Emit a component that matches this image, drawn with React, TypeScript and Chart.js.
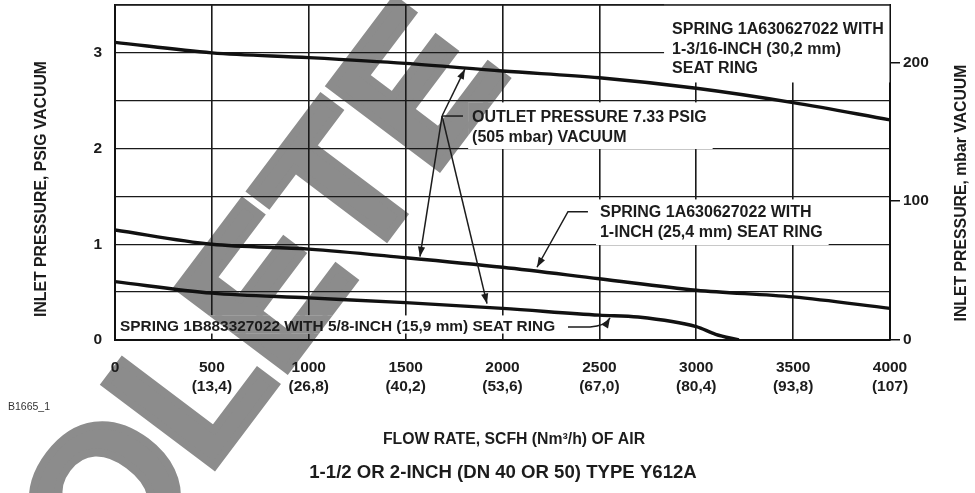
import React, { useEffect, useRef } from 'react';
import { Chart, registerables } from 'chart.js';

Chart.register(...registerables);

// ---------- data ----------
const FLOW_TICKS = [0, 500, 1000, 1500, 2000, 2500, 3000, 3500, 4000];
const FLOW_TICK_LABELS = ['0', '500', '1000', '1500', '2000', '2500', '3000', '3500', '4000'];
const NM3_TICK_LABELS = ['', '(13,4)', '(26,8)', '(40,2)', '(53,6)', '(67,0)', '(80,4)', '(93,8)', '(107)'];
const PSIG_TICKS = [0, 1, 2, 3];
const MBAR_TICKS = [0, 100, 200];
const PSIG_MAX = 3.5;
const MBAR_PER_PSI = 68.9476;

const FLOW_30_2MM = [0, 500, 1000, 1500, 2000, 2500, 3000, 3500, 4000];
const PSIG_30_2MM = [3.11, 3.0, 2.95, 2.89, 2.81, 2.74, 2.63, 2.48, 2.3];
const FLOW_25_4MM = [0, 500, 1000, 1500, 2000, 2500, 3000, 3500, 4000];
const PSIG_25_4MM = [1.15, 1.0, 0.95, 0.86, 0.76, 0.64, 0.52, 0.45, 0.33];
const FLOW_15_9MM = [0, 500, 1000, 1500, 2000, 2500, 2700, 3000, 3100, 3220];
const PSIG_15_9MM = [0.61, 0.49, 0.44, 0.39, 0.33, 0.26, 0.24, 0.14, 0.06, 0];

// ---------- text ----------
const LABEL_30_2MM = ['SPRING 1A630627022 WITH', '1-3/16-INCH (30,2 mm)', 'SEAT RING'];
const LABEL_OUTLET = ['OUTLET PRESSURE 7.33 PSIG', '(505 mbar) VACUUM'];
const LABEL_25_4MM = ['SPRING 1A630627022 WITH', '1-INCH (25,4 mm) SEAT RING'];
const LABEL_15_9MM = ['SPRING 1B883327022 WITH 5/8-INCH (15,9 mm) SEAT RING'];
const Y_TITLE_LEFT = 'INLET PRESSURE, PSIG VACUUM';
const Y_TITLE_RIGHT = 'INLET PRESSURE, mbar VACUUM';
const X_TITLE = 'FLOW RATE, SCFH (Nm\u00B3/h) OF AIR';
const SUBTITLE = '1-1/2 OR 2-INCH (DN 40 OR 50) TYPE Y612A';
const FIGURE_ID = 'B1665_1';
const WATERMARK = 'OBSOLETE';

// annotation anchors in data units [flow, psig]
const ANCHOR_30_2MM = [2875, 3.24];
const ANCHOR_OUTLET = [1843, 2.32];
const ANCHOR_25_4MM = [2503, 1.327];
const ANCHOR_15_9MM = [26, 0.136];
const OUTLET_BRANCH = [1688, 2.34];
const OUTLET_JOIN = [1796, 2.34];
const OUTLET_TIPS = [[1806, 2.83], [1574, 0.87], [1920, 0.38]];
const LEADER_25_4MM = [[2441, 1.34], [2338, 1.34], [2178, 0.76]];
const LEADER_15_9MM = [[2338, 0.136], [2452, 0.136], [2530, 0.145], [2555, 0.23]];

const FONT = '"Liberation Sans", Arial, Helvetica, sans-serif';
const INK = '#1c1c1c';

function drawWatermark(ctx: CanvasRenderingContext2D) {
  const size = 198;
  const th = (-53 * Math.PI) / 180;
  const ux = Math.cos(th);
  const uy = Math.sin(th);
  ctx.save();
  ctx.font = `bold ${size}px ${FONT}`;
  const pre = ctx.measureText('OBSO').width + 0.073 * size;
  const cx = 215, cy = 465;
  ctx.translate(cx - pre * ux, cy - pre * uy);
  ctx.rotate(th);
  ctx.fillStyle = '#8c8c8c';
  ctx.strokeStyle = '#8c8c8c';
  ctx.lineWidth = 8;
  ctx.lineJoin = 'miter';
  ctx.textAlign = 'left';
  ctx.textBaseline = 'alphabetic';
  ctx.fillText(WATERMARK, 0, 0);
  ctx.strokeText(WATERMARK, 0, 0);
  ctx.restore();
}

function arrowHead(ctx: CanvasRenderingContext2D, fx: number, fy: number, tx: number, ty: number) {
  const a = Math.atan2(ty - fy, tx - fx);
  const len = 10, hw = 3.6;
  ctx.beginPath();
  ctx.moveTo(tx, ty);
  ctx.lineTo(tx - len * Math.cos(a) + hw * Math.sin(a), ty - len * Math.sin(a) - hw * Math.cos(a));
  ctx.lineTo(tx - len * Math.cos(a) - hw * Math.sin(a), ty - len * Math.sin(a) + hw * Math.cos(a));
  ctx.closePath();
  ctx.fill();
}

type Lbl = { lines: string[]; anchor: number[]; pad: number[]; size: number };
const LABELS: Lbl[] = [
  { lines: LABEL_30_2MM, anchor: ANCHOR_30_2MM, pad: [8, 16, 6, 4], size: 16 },
  { lines: LABEL_OUTLET, anchor: ANCHOR_OUTLET, pad: [4, 6, 6, 2], size: 16 },
  { lines: LABEL_25_4MM, anchor: ANCHOR_25_4MM, pad: [4, 4, 6, 3], size: 16 },
  { lines: LABEL_15_9MM, anchor: ANCHOR_15_9MM, pad: [3, 2, 4, -3], size: 15.4 },
];
const LINE_H = 19.5;

const annotPlugin = {
  id: 'annot',
  beforeDraw(chart: any) {
    const ctx = chart.ctx as CanvasRenderingContext2D;
    ctx.save();
    ctx.fillStyle = '#ffffff';
    ctx.fillRect(0, 0, chart.width, chart.height);
    ctx.restore();
    drawWatermark(ctx);
  },
  beforeDatasetsDraw(chart: any) {
    const ctx = chart.ctx as CanvasRenderingContext2D;
    const xs = chart.scales.x, ys = chart.scales.y;
    ctx.save();
    for (const l of LABELS) {
      ctx.font = `bold ${l.size}px ${FONT}`;
      const x = xs.getPixelForValue(l.anchor[0]);
      const y = ys.getPixelForValue(l.anchor[1]);
      const w = Math.max(...l.lines.map((s) => ctx.measureText(s).width));
      const bx = x - l.pad[0];
      const by = y - LINE_H / 2 - l.pad[1];
      const bw = w + l.pad[0] + l.pad[2];
      const bh = l.lines.length * LINE_H + l.pad[1] + l.pad[3];
      ctx.save();
      ctx.beginPath();
      ctx.rect(bx, by, bw, bh);
      ctx.clip();
      ctx.fillStyle = '#ffffff';
      ctx.fillRect(bx, by, bw, bh);
      drawWatermark(ctx);
      ctx.restore();
    }
    ctx.fillStyle = INK;
    ctx.textAlign = 'left';
    ctx.textBaseline = 'middle';
    for (const l of LABELS) {
      ctx.font = `bold ${l.size}px ${FONT}`;
      const x = xs.getPixelForValue(l.anchor[0]);
      const y = ys.getPixelForValue(l.anchor[1]);
      l.lines.forEach((s, i) => ctx.fillText(s, x, y + i * LINE_H));
    }
    ctx.restore();
  },
  afterDatasetsDraw(chart: any) {
    const ctx = chart.ctx as CanvasRenderingContext2D;
    const xs = chart.scales.x, ys = chart.scales.y;
    const P = (p: number[]) => [xs.getPixelForValue(p[0]), ys.getPixelForValue(p[1])];
    ctx.save();
    ctx.strokeStyle = INK;
    ctx.fillStyle = INK;
    ctx.lineWidth = 1.5;
    const b = P(OUTLET_BRANCH), j = P(OUTLET_JOIN);
    ctx.beginPath();
    ctx.moveTo(j[0], j[1]);
    ctx.lineTo(b[0], b[1]);
    ctx.stroke();
    for (const t of OUTLET_TIPS) {
      const tp = P(t);
      ctx.beginPath();
      ctx.moveTo(b[0], b[1]);
      ctx.lineTo(tp[0], tp[1]);
      ctx.stroke();
      arrowHead(ctx, b[0], b[1], tp[0], tp[1]);
    }
    const m = LEADER_25_4MM.map(P);
    ctx.beginPath();
    ctx.moveTo(m[0][0], m[0][1]);
    ctx.lineTo(m[1][0], m[1][1]);
    ctx.lineTo(m[2][0], m[2][1]);
    ctx.stroke();
    arrowHead(ctx, m[1][0], m[1][1], m[2][0], m[2][1]);
    const s = LEADER_15_9MM.map(P);
    ctx.beginPath();
    ctx.moveTo(s[0][0], s[0][1]);
    ctx.lineTo(s[1][0], s[1][1]);
    ctx.quadraticCurveTo(s[2][0], s[2][1], s[3][0], s[3][1]);
    ctx.stroke();
    arrowHead(ctx, s[2][0], s[2][1], s[3][0], s[3][1]);
    ctx.restore();
  },
  afterDraw(chart: any) {
    const ctx = chart.ctx as CanvasRenderingContext2D;
    const a = chart.chartArea;
    ctx.save();
    ctx.fillStyle = INK;
    ctx.textAlign = 'center';
    ctx.textBaseline = 'middle';
    ctx.font = `bold 15.8px ${FONT}`;
    ctx.save();
    ctx.translate(a.left - 73, 189);
    ctx.rotate(-Math.PI / 2);
    ctx.fillText(Y_TITLE_LEFT, 0, 0);
    ctx.restore();
    ctx.save();
    ctx.translate(a.right + 72, 193);
    ctx.rotate(-Math.PI / 2);
    ctx.fillText(Y_TITLE_RIGHT, 0, 0);
    ctx.restore();
    ctx.fillText(X_TITLE, 514, a.bottom + 100);
    ctx.font = `bold 18.6px ${FONT}`;
    ctx.fillText(SUBTITLE, 503, a.bottom + 133);
    ctx.font = `10.5px ${FONT}`;
    ctx.textAlign = 'left';
    ctx.fillStyle = '#333';
    ctx.fillText(FIGURE_ID, 8, a.bottom + 67);
    ctx.strokeStyle = INK;
    ctx.lineWidth = 1.6;
    ctx.beginPath();
    ctx.moveTo(a.left, a.top);
    ctx.lineTo(a.right, a.top);
    ctx.stroke();
    ctx.restore();
  },
};

const zeroPad = (s: any) => {
  s.paddingTop = 0;
  s.paddingBottom = 0;
  s.paddingLeft = 0;
  s.paddingRight = 0;
};

export default function App() {
  const ref = useRef<HTMLCanvasElement>(null);
  useEffect(() => {
    const line = (fx: number[], py: number[]) => fx.map((x, i) => ({ x, y: py[i] }));
    const ds = (label: string, data: any[]) => ({
      label,
      data,
      borderColor: '#111',
      borderWidth: 3.4,
      pointRadius: 0,
      fill: false,
      cubicInterpolationMode: 'monotone' as const,
      yAxisID: 'y',
    });
    const chart = new Chart(ref.current!, {
      type: 'line',
      data: {
        datasets: [
          ds('30,2 mm', line(FLOW_30_2MM, PSIG_30_2MM)),
          ds('25,4 mm', line(FLOW_25_4MM, PSIG_25_4MM)),
          ds('15,9 mm', line(FLOW_15_9MM, PSIG_15_9MM)),
        ],
      },
      options: {
        animation: false,
        responsive: false,
        layout: { padding: { top: 5, left: 0, right: 0, bottom: 0 } },
        plugins: { legend: { display: false }, tooltip: { enabled: false } },
        scales: {
          x: {
            type: 'linear',
            min: 0,
            max: 4000,
            afterBuildTicks: (s: any) => {
              s.ticks = FLOW_TICKS.map((v) => ({ value: v }));
            },
            afterFit: (s: any) => {
              s.height = 153;
              zeroPad(s);
            },
            grid: { color: '#1a1a1a', lineWidth: 1.6, drawTicks: false },
            border: { color: '#111', width: 2 },
            ticks: {
              maxRotation: 0,
              autoSkip: false,
              padding: 18,
              color: INK,
              font: { family: FONT, size: 15.5, weight: 'bold', lineHeight: 1.25 },
              callback: (v: any) => {
                const i = FLOW_TICKS.indexOf(Number(v));
                if (i < 0) return '';
                return NM3_TICK_LABELS[i] ? [FLOW_TICK_LABELS[i], NM3_TICK_LABELS[i]] : FLOW_TICK_LABELS[i];
              },
            },
          },
          y: {
            type: 'linear',
            position: 'left',
            min: 0,
            max: PSIG_MAX,
            afterFit: (s: any) => {
              s.width = 115;
              zeroPad(s);
            },
            grid: { color: '#1a1a1a', lineWidth: 1.3, drawTicks: false },
            border: { color: '#111', width: 2 },
            ticks: {
              stepSize: 0.5,
              padding: 13,
              color: INK,
              font: { family: FONT, size: 15.5, weight: 'bold' },
              callback: (v: any) => (PSIG_TICKS.includes(Number(v)) ? String(v) : ''),
            },
          },
          y2: {
            type: 'linear',
            position: 'right',
            min: 0,
            max: PSIG_MAX * MBAR_PER_PSI,
            afterBuildTicks: (s: any) => {
              s.ticks = MBAR_TICKS.map((v) => ({ value: v }));
            },
            afterFit: (s: any) => {
              s.width = 85;
              zeroPad(s);
            },
            grid: { drawOnChartArea: false, color: '#111', lineWidth: 1.5, tickLength: 10 },
            border: { color: '#111', width: 2 },
            ticks: {
              padding: 3,
              color: INK,
              font: { family: FONT, size: 15.5, weight: 'bold' },
              callback: (v: any) => String(v),
            },
          },
        },
      },
      plugins: [annotPlugin],
    });
    return () => chart.destroy();
  }, []);
  return (
    <div style={{ position: 'fixed', left: 0, top: 0, width: 975, height: 493, background: '#fff' }}>
      <canvas ref={ref} width={975} height={493} style={{ display: 'block', width: 975, height: 493 }} />
    </div>
  );
}
